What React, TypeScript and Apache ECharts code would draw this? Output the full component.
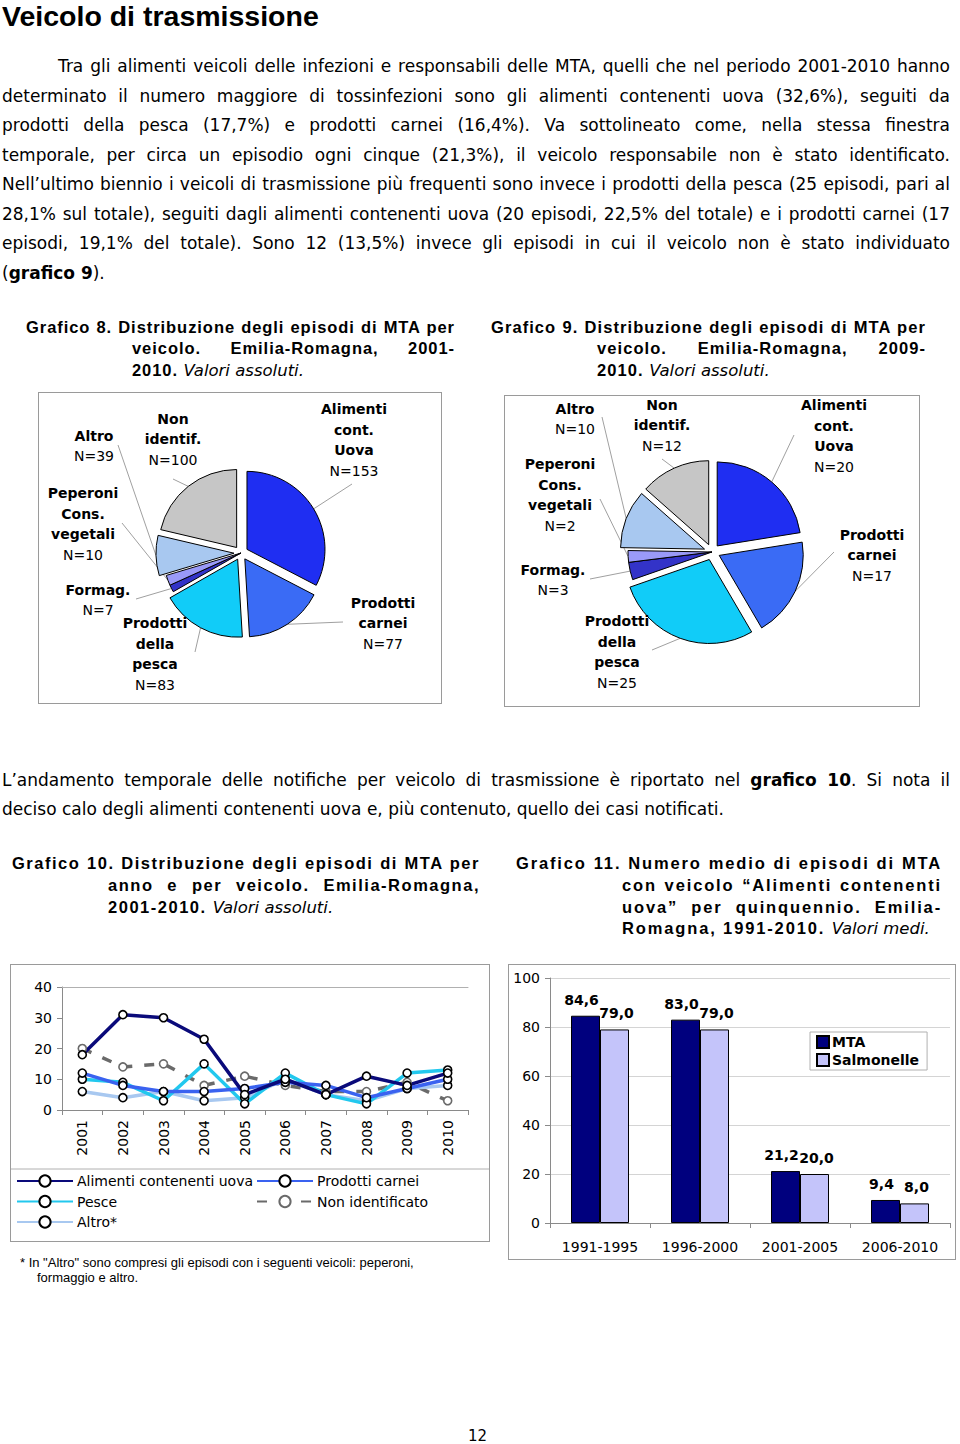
import React, { useEffect, useRef } from 'react';
import * as echarts from 'echarts';

// ---------------- DATA ----------------
const pieNames = ['Alimenti cont. Uova', 'Prodotti carnei', 'Prodotti della pesca', 'Formag.', 'Peperoni Cons. vegetali', 'Altro', 'Non identif.'];
const pieNameLines = [['Alimenti', 'cont.', 'Uova'], ['Prodotti', 'carnei'], ['Prodotti', 'della', 'pesca'], ['Formag.'], ['Peperoni', 'Cons.', 'vegetali'], ['Altro'], ['Non', 'identif.']];
const pie8Values = [153, 77, 83, 7, 10, 39, 100];
const pie9Values = [20, 17, 25, 3, 2, 10, 12];

const years = ['2001', '2002', '2003', '2004', '2005', '2006', '2007', '2008', '2009', '2010'];
const uovaSeries = [18, 31, 30, 23, 5, 10, 5, 11, 8, 12];
const carneiSeries = [12, 8, 6, 6, 7, 9, 8, 4, 7, 10];
const pesceSeries = [10, 9, 3, 15, 2, 12, 5, 2, 12, 13];
const nonIdentSeries = [20, 14, 15, 8, 11, 8, 6, 6, 9, 3];
const altroSeries = [6, 4, 6, 3, 4, 10, 5, 3, 7, 8];
const lineYTicks = [0, 10, 20, 30, 40];

const periods = ['1991-1995', '1996-2000', '2001-2005', '2006-2010'];
const mtaValues = [84.6, 83.0, 21.2, 9.4];
const salmonelleValues = [79.0, 79.0, 20.0, 8.0];
const barYTicks = [0, 20, 40, 60, 80, 100];

// ---------------- STYLE / LAYOUT ----------------
const SANS = '"DejaVu Sans", Verdana, sans-serif';
const ARIAL = '"Liberation Sans", Arial, sans-serif';
const pieColors = ['#1f2ef2', '#3a6bf5', '#11ccf8', '#3333c8', '#9a9af8', '#a8c8f0', '#c6c6c6'];
const pieExplode = [true, true, true, false, false, true, true];
// label block centres and leader-line end points, in chart-local pixels
const pie8LabelPos = [[316, 48], [345, 231], [117, 262], [60, 208], [45, 132], [56, 54], [135, 47]];
const pie8Anchor = [[314, 92], [305, 230], [157, 260], [98, 207], [84, 131], [80, 53], [135, 87]];
const pie9LabelPos = [[330, 41], [368, 160], [113, 257], [49, 185], [56, 100], [71, 24], [158, 30]];
const pie9Anchor = [[290, 40], [330, 157], [148, 255], [86, 184], [96, 104], [98, 22], [158, 64]];

const canvas = typeof document !== 'undefined' ? document.createElement('canvas') : null;
const ctx = canvas ? canvas.getContext('2d') : null;
function measure(text: string, font: string): number {
  if (!ctx) return text.length * 8;
  ctx.font = font;
  return ctx.measureText(text).width;
}

function EChart({ option, left, top, width, height, border }: any) {
  const ref = useRef<HTMLDivElement>(null);
  useEffect(() => {
    const chart = echarts.init(ref.current as HTMLDivElement, null, { renderer: 'svg' });
    chart.setOption(option);
    return () => chart.dispose();
  }, []);
  return (
    <>
      <div ref={ref} style={{ position: 'absolute', left, top, width, height }} />
      {border ? (
        <div style={{ position: 'absolute', left, top, width, height, boxSizing: 'border-box', border: '1px solid #9a9a9a', pointerEvents: 'none' }} />
      ) : null}
    </>
  );
}

function pieOption(values: number[], center: number[], radius: number, offset: number, labelPos: number[][], anchors: number[][]) {
  const total = values.reduce((a, b) => a + b, 0);
  let cum = 0;
  const series = values.map((v, i) => {
    const startAngle = 90 - (cum / total) * 360;
    const mid = ((90 - ((cum + v / 2) / total) * 360) * Math.PI) / 180;
    cum += v;
    const off = pieExplode[i] ? offset : 0;
    const c = [center[0] + off * Math.cos(mid), center[1] - off * Math.sin(mid)];
    return {
      type: 'pie',
      center: c,
      radius,
      startAngle,
      clockwise: true,
      avoidLabelOverlap: false,
      silent: true,
      emphasis: { disabled: true },
      data: [
        { value: v, name: pieNames[i], itemStyle: { color: pieColors[i], borderColor: '#000', borderWidth: 1 } },
        {
          value: total - v,
          name: '',
          itemStyle: { color: 'rgba(0,0,0,0)', borderWidth: 0 },
          label: { show: false },
          labelLine: { show: false },
        },
      ],
      label: {
        show: true,
        position: 'outside',
        align: 'center',
        formatter: (p: any) => `{b|${pieNameLines[i].join('\n')}}\n{n|N=${p.value}}`,
        rich: {
          b: { fontFamily: SANS, fontWeight: 'bold', fontSize: 14, lineHeight: 20.5, color: '#000', align: 'center' },
          n: { fontFamily: SANS, fontSize: 14, lineHeight: 20.5, color: '#000', align: 'center' },
        },
      },
      labelLine: { show: true, length: 8, length2: 8, lineStyle: { color: '#a0a0a0', width: 1 } },
      labelLayout: (p: any) => {
        if (p.dataIndex !== 0) return {};
        const res: any = { x: labelPos[i][0], y: labelPos[i][1], align: 'center', verticalAlign: 'middle' };
        const pts = p.labelLinePoints;
        if (pts && pts.length) {
          res.labelLinePoints = [pts[0], anchors[i], anchors[i]];
        }
        return res;
      },
    };
  });
  return { animation: false, series };
}

const lineLabelStyle = { fontFamily: SANS, fontSize: 14, color: '#000' };

function lineSeries(name: string, data: number[], color: string, dashed = false) {
  return {
    name,
    type: 'line',
    data,
    symbol: 'circle',
    symbolSize: 8,
    lineStyle: { color, width: 3.5, type: dashed ? [10, 12] : 'solid' },
    itemStyle: { color: '#fff', borderColor: dashed ? '#6a6a6a' : '#000', borderWidth: 1.6 },
    emphasis: { disabled: true },
  };
}

const lineOption = {
  animation: false,
  grid: { left: 52, right: 22, top: 23, height: 123 },
  xAxis: [
    {
      type: 'category',
      data: years,
      axisLine: { lineStyle: { color: '#8a8a8a' } },
      axisTick: { show: true, length: 5, lineStyle: { color: '#8a8a8a' } },
      axisLabel: { ...lineLabelStyle, rotate: 90, margin: 10, interval: 0 },
    },
    {
      type: 'category',
      data: years,
      position: 'top',
      axisLine: { show: true, lineStyle: { color: '#b0b0b0' } },
      axisTick: { show: false },
      axisLabel: { show: false },
    },
  ],
  yAxis: {
    type: 'value',
    min: lineYTicks[0],
    max: lineYTicks[lineYTicks.length - 1],
    interval: 10,
    axisLine: { show: true, lineStyle: { color: '#8a8a8a' } },
    axisTick: { show: true, length: 5, lineStyle: { color: '#8a8a8a' } },
    splitLine: { show: false },
    axisLabel: { ...lineLabelStyle, margin: 10 },
  },
  legend: [
    {
      orient: 'vertical',
      left: 6,
      top: 210,
      itemWidth: 56,
      itemHeight: 14,
      itemGap: 6.5,
      padding: 0,
      data: ['Alimenti contenenti uova', 'Pesce', 'Altro*'],
      textStyle: { ...lineLabelStyle, padding: [0, 0, 0, -1] },
    },
    {
      orient: 'vertical',
      left: 246,
      top: 210,
      itemWidth: 56,
      itemHeight: 14,
      itemGap: 6.5,
      padding: 0,
      data: ['Prodotti carnei', 'Non identificato'],
      textStyle: { ...lineLabelStyle, padding: [0, 0, 0, -1] },
    },
  ],
  graphic: [
    { type: 'line', shape: { x1: 0, y1: 205, x2: 480, y2: 205 }, style: { stroke: '#b0b0b0', lineWidth: 1 } },
  ],
  series: [
    lineSeries('Non identificato', nonIdentSeries, '#6a6a6a', true),
    lineSeries('Altro*', altroSeries, '#a8c8f0'),
    lineSeries('Pesce', pesceSeries, '#22c8ee'),
    lineSeries('Prodotti carnei', carneiSeries, '#3a62f0'),
    lineSeries('Alimenti contenenti uova', uovaSeries, '#0a0a7a'),
  ],
};

const fmt = (v: number) => v.toFixed(1).replace('.', ',');

const barLabel = (dx: number) => ({
  show: true,
  position: 'top',
  distance: 9,
  offset: [dx, 0],
  formatter: (p: any) => fmt(p.value),
  fontFamily: SANS,
  fontWeight: 'bold',
  fontSize: 14,
  color: '#000',
});

const barOption = {
  animation: false,
  grid: { left: 42, right: 6, top: 14, height: 245 },
  xAxis: {
    type: 'category',
    data: periods,
    axisLine: { lineStyle: { color: '#8a8a8a' } },
    axisTick: { show: true, length: 5, lineStyle: { color: '#8a8a8a' } },
    axisLabel: { fontFamily: SANS, fontSize: 14, color: '#000', margin: 17 },
  },
  yAxis: {
    type: 'value',
    min: barYTicks[0],
    max: barYTicks[barYTicks.length - 1],
    interval: 20,
    axisLine: { show: true, lineStyle: { color: '#8a8a8a' } },
    axisTick: { show: true, length: 5, lineStyle: { color: '#8a8a8a' } },
    splitLine: { lineStyle: { color: '#d4d4d4' } },
    axisLabel: { fontFamily: SANS, fontSize: 14, color: '#000', margin: 10 },
  },
  legend: {
    orient: 'vertical',
    left: 302,
    top: 68,
    itemWidth: 12,
    itemHeight: 12,
    itemGap: 4,
    padding: [3, 8, 3, 6],
    borderColor: '#b0b0b0',
    borderWidth: 1,
    icon: 'rect',
    data: ['MTA', 'Salmonelle'],
    textStyle: { fontFamily: SANS, fontWeight: 'bold', fontSize: 14, color: '#000', padding: [0, 0, 0, -2] },
  },
  series: [
    {
      name: 'MTA',
      type: 'bar',
      data: mtaValues,
      barWidth: 29,
      barGap: '0%',
      itemStyle: { color: '#00007e', borderColor: '#000', borderWidth: 1 },
      label: barLabel(-4),
      emphasis: { disabled: true },
    },
    {
      name: 'Salmonelle',
      type: 'bar',
      data: salmonelleValues,
      barWidth: 29,
      barGap: '0%',
      itemStyle: { color: '#c4c4fa', borderColor: '#000', borderWidth: 1 },
      label: barLabel(2),
      emphasis: { disabled: true },
    },
  ],
};

// --------------- TEXT ----------------
type LineDef = { x: number; y: number; w: number; text: React.ReactNode; plain: string; justify: boolean };

function mk(x: number, y: number, w: number, text: string, justify = true, node?: React.ReactNode): LineDef {
  return { x, y, w, text: node ?? text, plain: text, justify };
}

function fitScale(lines: LineDef[], font: string): number {
  let s = 1;
  lines.forEach((l) => {
    if (l.justify) s = Math.min(s, (l.w / measure(l.plain, font)) * 0.985);
  });
  return s;
}

function fitSpacing(lines: LineDef[], font: string): number {
  let ls = 3;
  lines.forEach((l) => {
    if (l.justify) ls = Math.min(ls, (l.w * 0.992 - measure(l.plain, font)) / l.plain.length);
  });
  return Math.max(0, ls);
}

function Lines({ lines, size, family, weight = 'normal', lh, scale = 1, letterSpacing = 0 }: any) {
  const s = scale;
  return (
    <>
      {lines.map((l: LineDef, i: number) => (
        <div
          key={i}
          style={{
            position: 'absolute',
            left: l.x,
            top: l.y - lh / 2,
            width: l.w / s,
            transform: `scaleX(${s})`,
            transformOrigin: '0 0',
            fontFamily: family,
            fontSize: size,
            fontWeight: weight,
            letterSpacing,
            lineHeight: `${lh}px`,
            height: lh,
            textAlign: l.justify ? 'justify' : 'left',
            textAlignLast: l.justify ? 'justify' : 'left',
            color: '#000',
            whiteSpace: 'normal',
          } as any}
        >
          {l.text}
        </div>
      ))}
    </>
  );
}

const para1 = [
  mk(58, 66, 892, 'Tra gli alimenti veicoli delle infezioni e responsabili delle MTA, quelli che nel periodo 2001-2010 hanno'),
  mk(2, 96, 948, 'determinato il numero maggiore di tossinfezioni sono gli alimenti contenenti uova (32,6%), seguiti da'),
  mk(2, 125, 948, 'prodotti della pesca (17,7%) e prodotti carnei (16,4%). Va sottolineato come, nella stessa finestra'),
  mk(2, 155, 948, 'temporale, per circa un episodio ogni cinque (21,3%), il veicolo responsabile non è stato identificato.'),
  mk(2, 184, 948, 'Nell’ultimo biennio i veicoli di trasmissione più frequenti sono invece i prodotti della pesca (25 episodi, pari al'),
  mk(2, 214, 948, '28,1% sul totale), seguiti dagli alimenti contenenti uova (20 episodi, 22,5% del totale) e i prodotti carnei (17'),
  mk(2, 243, 948, 'episodi, 19,1% del totale). Sono 12 (13,5%) invece gli episodi in cui il veicolo non è stato individuato'),
  mk(2, 273, 948, '(grafico 9).', false, <>(<b>grafico 9</b>).</>),
];

const para2 = [
  mk(2, 780, 948, 'L’andamento temporale delle notifiche per veicolo di trasmissione è riportato nel grafico 10. Si nota il', true,
    <>L’andamento temporale delle notifiche per veicolo di trasmissione è riportato nel <b>grafico 10</b>. Si nota il</>),
  mk(2, 809, 948, 'deciso calo degli alimenti contenenti uova e, più contenuto, quello dei casi notificati.', false),
];

const ital = (t: string) => <span style={{ fontFamily: SANS, fontWeight: 'normal', fontStyle: 'italic', letterSpacing: 0 }}>{t}</span>;

const cap8 = [
  mk(26, 327, 429, 'Grafico 8. Distribuzione degli episodi di MTA per'),
  mk(132, 348, 323, 'veicolo. Emilia-Romagna, 2001-'),
  mk(132, 370, 323, '2010. Valori assoluti.', false, <>2010. {ital('Valori assoluti.')}</>),
];
const cap9 = [
  mk(491, 327, 435, 'Grafico 9. Distribuzione degli episodi di MTA per'),
  mk(597, 348, 329, 'veicolo. Emilia-Romagna, 2009-'),
  mk(597, 370, 329, '2010. Valori assoluti.', false, <>2010. {ital('Valori assoluti.')}</>),
];
const cap10 = [
  mk(12, 863, 468, 'Grafico 10. Distribuzione degli episodi di MTA per'),
  mk(108, 885, 372, 'anno e per veicolo. Emilia-Romagna,'),
  mk(108, 907, 372, '2001-2010. Valori assoluti.', false, <>2001-2010. {ital('Valori assoluti.')}</>),
];
const cap11 = [
  mk(516, 863, 426, 'Grafico 11. Numero medio di episodi di MTA'),
  mk(622, 885, 320, 'con veicolo “Alimenti contenenti'),
  mk(622, 907, 320, 'uova” per quinquennio. Emilia-'),
  mk(622, 928, 320, 'Romagna, 1991-2010. Valori medi.', false, <>Romagna, 1991-2010. {ital('Valori medi.')}</>),
];

const BODY_SIZE = 17;
const BODY_FONT = `normal ${BODY_SIZE}px ${SANS}`;
const CAP_SIZE = 16.5;
const CAP_FONT = `bold ${CAP_SIZE}px ${ARIAL}`;

function Caption({ lines }: any) {
  const ls = fitSpacing([lines[0]], CAP_FONT);
  return <Lines lines={lines} size={CAP_SIZE} family={ARIAL} weight="bold" lh={21} letterSpacing={ls} />;
}

export default function App() {
  const bodyScale = Math.min(fitScale(para1, BODY_FONT), fitScale(para2, BODY_FONT));
  return (
    <div style={{ position: 'absolute', left: 0, top: 0, width: 960, height: 1444, background: '#fff', overflow: 'hidden' }}>
      <div style={{ position: 'absolute', left: 2, top: 0, fontFamily: ARIAL, fontWeight: 'bold', fontSize: 28.5, lineHeight: '32px', color: '#000', whiteSpace: 'nowrap' }}>
        Veicolo di trasmissione
      </div>

      <Lines lines={para1} size={BODY_SIZE} family={SANS} lh={24} scale={bodyScale} />

      <Caption lines={cap8} />
      <Caption lines={cap9} />

      <EChart option={pieOption(pie8Values, [203, 161], 78, 7, pie8LabelPos, pie8Anchor)} left={38} top={392} width={404} height={312} border />
      <EChart option={pieOption(pie9Values, [208, 157], 84, 8, pie9LabelPos, pie9Anchor)} left={504} top={395} width={416} height={312} border />

      <Lines lines={para2} size={BODY_SIZE} family={SANS} lh={24} scale={bodyScale} />

      <Caption lines={cap10} />
      <Caption lines={cap11} />

      <EChart option={lineOption} left={10} top={964} width={480} height={278} border />
      <EChart option={barOption} left={508} top={964} width={448} height={296} border />

      <div style={{ position: 'absolute', left: 20, top: 1255, fontFamily: ARIAL, fontSize: 13, lineHeight: '15px', color: '#000', whiteSpace: 'nowrap' }}>
        * In "Altro" sono compresi gli episodi con i seguenti veicoli: peperoni,
        <br />
        <span style={{ paddingLeft: 17 }}>formaggio e altro.</span>
      </div>

      <div style={{ position: 'absolute', left: 468, top: 1429, fontFamily: SANS, fontSize: 15, lineHeight: '15px', color: '#000' }}>12</div>
    </div>
  );
}
